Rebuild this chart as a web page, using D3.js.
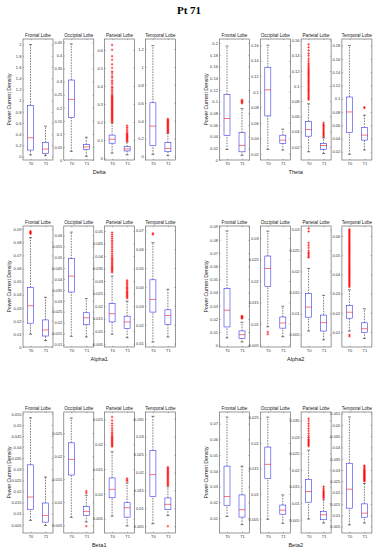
<!DOCTYPE html>
<html>
<head>
<meta charset="utf-8">
<script src="https://cdn.jsdelivr.net/npm/d3@7"></script>
<style>
  html, body { margin: 0; padding: 0; background: #fff; }
  svg { display: block; font-family: "Liberation Sans", Arial, sans-serif; }
</style>
</head>
<body>
<svg id="chart" width="378" height="550"></svg>
<script>
// ---------------------
// data
const chartTitle = 'Pt 71';
const bands = ['Delta', 'Theta', 'Alpha1', 'Alpha2', 'Beta1', 'Beta2'];
const lobes = ['Frontal Lobe', 'Occipital Lobe', 'Parietal Lobe', 'Temporal Lobe'];
const groups = ['T0', 'T1'];
const yLabel = 'Power Current Density';

// y limits per band, per lobe
const yLimits = [
  [[-0.06, 2.1], [0, 0.463], [-0.01, 0.66], [-0.037, 1.31]],
  [[0, 0.207], [0.012, 0.168], [0.0025, 0.162], [0.0075, 0.19]],
  [[0, 0.0925], [0.0088, 0.0643], [0.0037, 0.052], [0.0082, 0.0723]],
  [[-0.0013, 0.0905], [0.0046, 0.0328], [0.002, 0.0308], [0.0022, 0.0652]],
  [[0.0013, 0.0558], [0.0033, 0.0296], [0.0021, 0.0265], [0.0031, 0.0369]],
  [[0.0005, 0.0774], [0.0023, 0.0261], [0.001, 0.0375], [0.0021, 0.0557]]
];
// tick spacing per band, per lobe
const tickSteps = [
  [0.2, 0.05, 0.1, 0.2],
  [0.02, 0.02, 0.02, 0.02],
  [0.01, 0.005, 0.005, 0.01],
  [0.01, 0.005, 0.005, 0.01],
  [0.005, 0.005, 0.005, 0.005],
  [0.01, 0.005, 0.005, 0.005]
];

// box stats: [lower whisker, q1, median, q3, upper whisker] for T0, T1 per lobe
const deltaStats = [
  [[0.03, 0.117, 0.337, 0.916, 2.0], [0.017, 0.058, 0.135, 0.254, 0.544]],
  [[0.033, 0.162, 0.232, 0.306, 0.444], [0.014, 0.04, 0.05, 0.059, 0.087]],
  [[0.028, 0.083, 0.105, 0.128, 0.195], [0.018, 0.04, 0.051, 0.064, 0.09]],
  [[0.026, 0.122, 0.34, 0.60, 1.236], [0.011, 0.055, 0.092, 0.159, 0.26]]
];
const thetaStats = [
  [[0.018, 0.042, 0.071, 0.112, 0.195], [0.008, 0.014, 0.025, 0.047, 0.088]],
  [[0.0257, 0.0688, 0.1025, 0.1316, 0.16], [0.0248, 0.0334, 0.0376, 0.044, 0.0518]],
  [[0.0133, 0.0339, 0.0426, 0.0535, 0.0766], [0.011, 0.0163, 0.0216, 0.0242, 0.0316]],
  [[0.016, 0.049, 0.08, 0.1025, 0.18], [0.0225, 0.0375, 0.045, 0.0565, 0.075]]
];
const alpha1Stats = [
  [[0.0098, 0.0182, 0.0315, 0.0455, 0.0836], [0.005, 0.0084, 0.013, 0.0207, 0.038]],
  [[0.0137, 0.034, 0.0413, 0.0493, 0.0615], [0.0134, 0.019, 0.0222, 0.0245, 0.031]],
  [[0.0088, 0.0137, 0.017, 0.021, 0.032], [0.0074, 0.0111, 0.0137, 0.016, 0.022]],
  [[0.0108, 0.0267, 0.0334, 0.0438, 0.0635], [0.0135, 0.0202, 0.0249, 0.0279, 0.0388]]
];
const alpha2Stats = [
  [[0.0056, 0.0139, 0.0266, 0.043, 0.0868], [0.0025, 0.0051, 0.0081, 0.0109, 0.0175]],
  [[0.0093, 0.0187, 0.0229, 0.0258, 0.0316], [0.007, 0.009, 0.0102, 0.0116, 0.0141]],
  [[0.0058, 0.0091, 0.0115, 0.0147, 0.0207], [0.0037, 0.0058, 0.0078, 0.0096, 0.0143]],
  [[0.0105, 0.0172, 0.0203, 0.0238, 0.032], [0.0066, 0.0097, 0.0117, 0.0148, 0.0221]]
];
const beta1Stats = [
  [[0.007, 0.0118, 0.0175, 0.032, 0.0532], [0.0047, 0.0062, 0.0092, 0.0148, 0.0265]],
  [[0.0067, 0.0159, 0.0193, 0.0229, 0.0283], [0.0057, 0.0071, 0.008, 0.0091, 0.0115]],
  [[0.0055, 0.0092, 0.0109, 0.0132, 0.0185], [0.0035, 0.0053, 0.0072, 0.0082, 0.0122]],
  [[0.0057, 0.0133, 0.0194, 0.0262, 0.0357], [0.008, 0.0096, 0.0111, 0.0129, 0.016]]
];
const beta2Stats = [
  [[0.011, 0.018, 0.0237, 0.043, 0.0742], [0.0058, 0.0106, 0.0153, 0.0247, 0.043]],
  [[0.005, 0.013, 0.0158, 0.0192, 0.0251], [0.0042, 0.006, 0.0068, 0.0078, 0.0098]],
  [[0.0052, 0.0103, 0.0135, 0.0172, 0.026], [0.004, 0.005, 0.0065, 0.0075, 0.011]],
  [[0.0057, 0.0131, 0.0215, 0.033, 0.0535], [0.0065, 0.0091, 0.0109, 0.015, 0.024]]
];

// outliers for T0, T1 per lobe
const deltaOutliers = [
  [[], []],
  [[], []],
  [[0.2, 0.205, 0.21, 0.215, 0.22, 0.225, 0.23, 0.235, 0.24, 0.245, 0.25, 0.255, 0.26, 0.265, 0.27, 0.275, 0.28, 0.285, 0.29, 0.295, 0.3, 0.305, 0.31, 0.315, 0.32, 0.325, 0.33, 0.335, 0.34, 0.345, 0.35, 0.36, 0.37, 0.38, 0.39, 0.395, 0.41, 0.42, 0.43, 0.445, 0.455, 0.47, 0.48, 0.5, 0.52, 0.545, 0.565, 0.6, 0.627],
   [0.095, 0.1, 0.105, 0.11, 0.115, 0.12, 0.125, 0.13, 0.135, 0.14, 0.15, 0.16, 0.17, 0.18]],
  [[], [0.27, 0.28, 0.29, 0.3, 0.31, 0.32, 0.33, 0.34, 0.35, 0.36, 0.37, 0.38, 0.39, 0.4, 0.41, 0.42]]
];
const thetaOutliers = [
  [[], [0.097, 0.099, 0.1, 0.101, 0.103]],
  [[], []],
  [[0.082, 0.0835, 0.085, 0.0865, 0.088, 0.0895, 0.091, 0.0925, 0.094, 0.0955, 0.097, 0.0985, 0.1, 0.1015, 0.103, 0.1045, 0.106, 0.1075, 0.109, 0.1105, 0.112, 0.1135, 0.115, 0.1165, 0.118, 0.1195, 0.121, 0.1225, 0.124, 0.126, 0.128, 0.13, 0.133, 0.136, 0.14, 0.143, 0.147, 0.151, 0.155],
   [0.033, 0.0345, 0.036, 0.0375, 0.039, 0.0405, 0.042, 0.0435, 0.045, 0.0465, 0.048, 0.0495, 0.0515]],
  [[], [0.086, 0.087]]
];
const alpha1Outliers = [
  [[0.0865, 0.087, 0.0875, 0.088, 0.0885], []],
  [[], []],
  [[0.0335, 0.034, 0.0344, 0.0348, 0.0352, 0.0356, 0.036, 0.0365, 0.037, 0.0376, 0.038, 0.0385, 0.039, 0.0396, 0.0402, 0.041, 0.0418, 0.0425, 0.0433, 0.044, 0.0448, 0.0455, 0.0462, 0.047, 0.0478, 0.0486, 0.0494],
   [0.0232, 0.0236, 0.024, 0.0244, 0.0248, 0.0252, 0.0256, 0.026, 0.0265, 0.027, 0.0275, 0.028, 0.0286, 0.0292, 0.0297, 0.0303]],
  [[0.0678, 0.0684], []]
];
const alpha2Outliers = [
  [[], [0.0203, 0.0208, 0.0213, 0.0218, 0.0223]],
  [[0.0081, 0.0076], []],
  [[0.0302, 0.0295, 0.0268, 0.0262, 0.0256, 0.0249, 0.0245, 0.0242, 0.0239, 0.0236, 0.0233], []],
  [[0.0078, 0.0085, 0.0335, 0.034, 0.0345, 0.035, 0.0355, 0.036, 0.0365, 0.037, 0.0375, 0.038, 0.0385, 0.039, 0.0395, 0.04, 0.0405, 0.041, 0.0415, 0.042, 0.0425, 0.043, 0.0435, 0.044, 0.0445, 0.045, 0.0455, 0.046, 0.0465, 0.047, 0.0475, 0.048, 0.0485, 0.049, 0.0495, 0.05, 0.0505, 0.051, 0.0515, 0.052, 0.0525, 0.053, 0.0535, 0.054, 0.0545, 0.055, 0.0555, 0.056, 0.0565, 0.057, 0.0575, 0.058, 0.0585, 0.059, 0.0595, 0.06, 0.0605, 0.061, 0.0615, 0.062, 0.0625, 0.063, 0.0635], []]
];
const beta1Outliers = [
  [[], []],
  [[], [0.012, 0.0124, 0.0048]],
  [[0.0195, 0.0197, 0.0199, 0.0201, 0.0203, 0.0205, 0.0207, 0.0209, 0.0211, 0.0213, 0.0215, 0.0218, 0.0221, 0.0224, 0.0228, 0.0232, 0.0237, 0.0242, 0.0248, 0.0255],
   [0.0126, 0.0128, 0.0131]],
  [[], [0.005, 0.0164, 0.0167, 0.017, 0.0173, 0.0176, 0.0179, 0.0182, 0.0185, 0.0188, 0.0191, 0.0194, 0.0197, 0.02, 0.0203, 0.0206, 0.0209, 0.0212, 0.0215]]
];
const beta2Outliers = [
  [[], []],
  [[], []],
  [[0.0272, 0.0275, 0.0278, 0.0281, 0.0284, 0.0287, 0.029, 0.0293, 0.0298, 0.0303, 0.031, 0.0318, 0.0325, 0.0333, 0.034, 0.0348, 0.0355],
   [0.0115, 0.0118, 0.0121, 0.0124, 0.0127, 0.013, 0.0133, 0.0136, 0.014, 0.0145, 0.015]],
  [[], [0.025, 0.0253, 0.0256, 0.0259, 0.0262, 0.0265, 0.0268, 0.0271, 0.0274, 0.0277, 0.028, 0.0283, 0.0286, 0.0289, 0.0292, 0.0295, 0.0298, 0.0301, 0.0305, 0.031, 0.0315, 0.032]]
];

const allStats = [deltaStats, thetaStats, alpha1Stats, alpha2Stats, beta1Stats, beta2Stats];
const allOutliers = [deltaOutliers, thetaOutliers, alpha1Outliers, alpha2Outliers, beta1Outliers, beta2Outliers];

// ---------------------
// layout
const colX = [23, 219.5];     // left edge of first subplot in each column
const rowY = [39, 226, 412];  // top edge of the subplot frames in each row
const subW = 30, subH = 121, subStep = 40.8;
const boxW = 6;

const svg = d3.select('#chart');

svg.append('text')
  .attr('x', 189).attr('y', 14)
  .attr('text-anchor', 'middle')
  .style('font-family', '"Liberation Serif", "DejaVu Serif", serif')
  .style('font-weight', 'bold')
  .style('font-size', '11px')
  .text(chartTitle);

const fmt = v => String(+v.toFixed(5));

function tickList(lim, step){
  const out = [];
  let k = Math.ceil(lim[0] / step - 1e-9);
  while (k * step <= lim[1] + 1e-12) { out.push(+(k * step).toFixed(6)); k++; }
  return out;
}

function drawBand(bi){
  const col = bi % 2, row = Math.floor(bi / 2);
  const g = svg.append('g').attr('class', 'band');
  const x0 = colX[col], y0 = rowY[row];

  lobes.forEach((lobe, li) => {
    const left = x0 + li * subStep;
    const y = d3.scaleLinear().domain(yLimits[bi][li]).range([y0 + subH, y0]);
    const x = d3.scalePoint().domain(groups).range([left + subW / 4, left + subW * 3 / 4]);
    const ticks = tickList(yLimits[bi][li], tickSteps[bi][li]);
    const sub = g.append('g').attr('class', 'subplot');

    // axes (ticks inside, labels outside)
    sub.append('g').attr('transform', `translate(${left},0)`)
      .call(d3.axisLeft(y).tickValues(ticks).tickFormat(fmt).tickSize(-1.2).tickPadding(1.6))
      .call(a => a.select('.domain').remove());
    sub.append('g').attr('transform', `translate(${left + subW},0)`)
      .call(d3.axisRight(y).tickValues(ticks).tickFormat('').tickSize(-1.2))
      .call(a => a.select('.domain').remove());
    sub.append('g').attr('transform', `translate(0,${y0 + subH})`)
      .call(d3.axisBottom(x).tickSize(-1.2).tickPadding(2.2))
      .call(a => a.select('.domain').remove());
    sub.append('g').attr('transform', `translate(0,${y0})`)
      .call(d3.axisTop(x).tickSize(-1.2).tickFormat(''))
      .call(a => a.select('.domain').remove());
    sub.selectAll('.tick line').attr('stroke', '#444').attr('stroke-width', 0.4);
    sub.selectAll('.tick text').attr('fill', '#333').style('font-size', '4px');

    sub.append('rect')
      .attr('x', left).attr('y', y0).attr('width', subW).attr('height', subH)
      .attr('fill', 'none').attr('stroke', '#555').attr('stroke-width', 0.6);

    sub.append('text')
      .attr('x', left + subW / 2).attr('y', y0 - 1.8)
      .attr('text-anchor', 'middle')
      .style('font-size', '4.6px').attr('fill', '#222')
      .text(lobe);

    groups.forEach((grp, gi) => {
      const s = allStats[bi][li][gi];
      const cx = x(grp);
      const bg = sub.append('g');
      // whiskers
      bg.selectAll('line.whisk').data([[s[0], s[1]], [s[3], s[4]]]).enter().append('line')
        .attr('class', 'whisk')
        .attr('x1', cx).attr('x2', cx)
        .attr('y1', d => y(d[0])).attr('y2', d => y(d[1]))
        .attr('stroke', '#000').attr('stroke-width', 0.5).attr('stroke-dasharray', '1.6,1.1');
      bg.selectAll('line.cap').data([s[0], s[4]]).enter().append('line')
        .attr('class', 'cap')
        .attr('x1', cx - boxW / 4).attr('x2', cx + boxW / 4)
        .attr('y1', d => y(d)).attr('y2', d => y(d))
        .attr('stroke', '#000').attr('stroke-width', 0.5);
      // box
      bg.append('rect')
        .attr('x', cx - boxW / 2).attr('width', boxW)
        .attr('y', y(s[3])).attr('height', y(s[1]) - y(s[3]))
        .attr('fill', '#fff').attr('stroke', '#2a2aee').attr('stroke-width', 0.55);
      bg.append('line')
        .attr('x1', cx - boxW / 2).attr('x2', cx + boxW / 2)
        .attr('y1', y(s[2])).attr('y2', y(s[2]))
        .attr('stroke', '#f00').attr('stroke-width', 0.55);
      // outliers
      bg.selectAll('path.out').data(allOutliers[bi][li][gi]).enter().append('path')
        .attr('class', 'out')
        .attr('transform', d => `translate(${cx},${y(d)})`)
        .attr('d', 'M-1.3,0H1.3M0,-1.3V1.3')
        .attr('stroke', '#f00').attr('stroke-width', 0.6).attr('fill', 'none');
    });
  });

  const right = x0 + 3 * subStep + subW;
  g.append('text')
    .attr('transform', `translate(${x0 - 12},${y0 + subH / 2}) rotate(-90)`)
    .attr('text-anchor', 'middle')
    .style('font-size', '5.2px').attr('fill', '#222')
    .text(yLabel);
  g.append('text')
    .attr('x', (x0 + right) / 2).attr('y', y0 + subH + 14)
    .attr('text-anchor', 'middle')
    .style('font-size', '5.6px').attr('fill', '#222')
    .text(bands[bi]);
}

bands.forEach((b, i) => drawBand(i));
</script>
</body>
</html>
